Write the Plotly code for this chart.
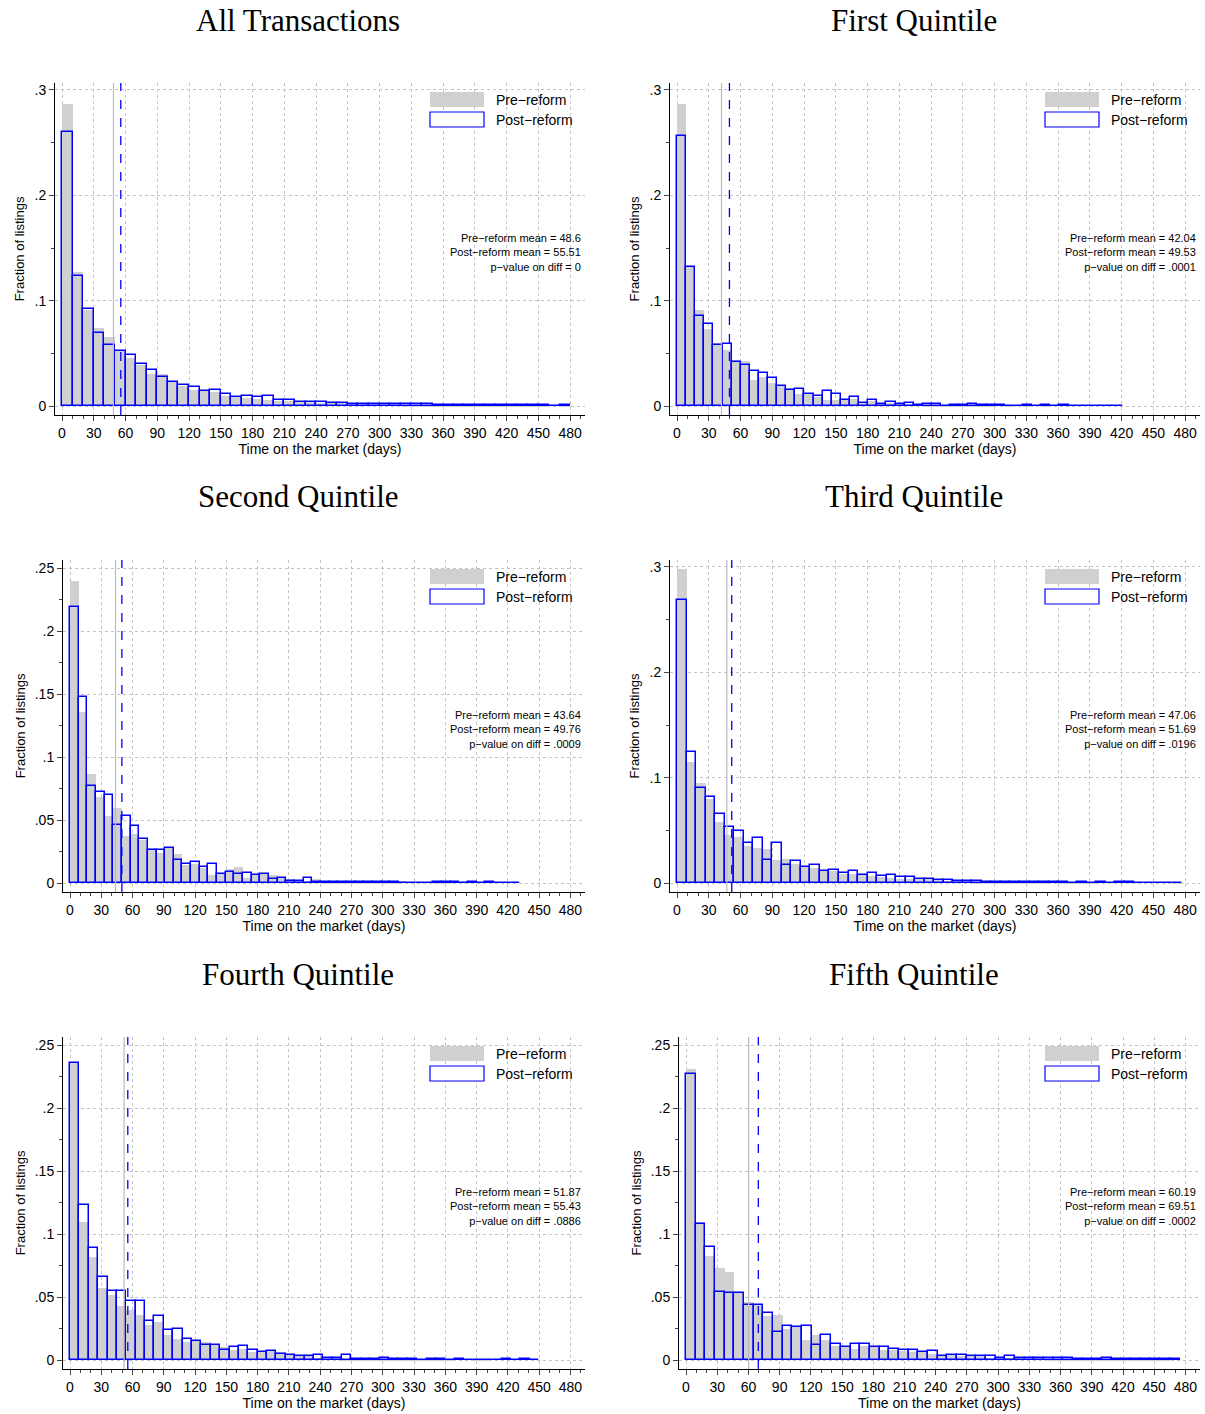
import plotly.graph_objects as go

W, H = 1205, 1414

titles = ['All Transactions', 'First Quintile', 'Second Quintile',
          'Third Quintile', 'Fourth Quintile', 'Fifth Quintile']
bin_width = [10, 8.6, 8.3, 9.0, 9.0, 9.3]
pre_mean = [48.6, 42.04, 43.64, 47.06, 51.87, 60.19]
post_mean = [55.51, 49.53, 49.76, 51.69, 55.43, 69.51]
p_value = ['0', '.0001', '.0009', '.0196', '.0886', '.0002']

pre_all = [.287, .127, .091, .074, .066, .052, .046, .039, .030, .030, .023, .019, .015, .014, .013, .010,
           .009, .008, .007, .006, .005, .005, .004, .004, .003, .003, .003, .002, .002, .002, .002, .002,
           .001, .001, .001, .001, .001, .001, .001, .001, .001, .001, .001, .0005, .0005, .0005, 0, .0005]
post_all = [.260, .123, .092, .069, .058, .052, .048, .040, .034, .028, .023, .020, .018, .014, .015, .011,
            .009, .010, .009, .010, .006, .006, .004, .004, .004, .003, .003, .002, .002, .002, .002, .002,
            .002, .002, .002, .001, .001, .001, .001, .001, .001, .001, .001, .001, .001, .001, 0, .001]

pre_q1 = [.287, .132, .091, .073, .060, .053, .044, .043, .025, .028, .022, .019, .017, .011, .011, .009,
          .006, .006, .006, .007, .004, .005, .003, .003, .002, .002, .002, .001, .001, .001, .001, .001,
          .001, .001, .001, .0, .001, .0, .001, .0, .001, .0, .0, .0, .0, .0, .0, .0, .0]
post_q1 = [.256, .132, .085, .078, .058, .059, .042, .039, .033, .031, .027, .019, .015, .016, .011, .010,
           .014, .011, .006, .009, .003, .006, .002, .004, .002, .003, .001, .002, .002, .0, .001, .001,
           .002, .001, .001, .001, .0, .0, .001, .0, .001, .0, .001, .0, .0, .0, .0, .0, .0]

pre_q2 = [.240, .136, .087, .068, .053, .060, .037, .039, .034, .028, .024, .028, .023, .014, .015, .012,
          .006, .008, .011, .013, .004, .007, .008, .006, .004, .003, .002, .002, .003, .001, .001, .001,
          .001, .001, .001, .001, .001, .001, .002, .0, .0, .0, .001, .001, .0, .0, .0, .0, .0, .0, .0, .0]
post_q2 = [.219, .148, .077, .072, .070, .046, .053, .045, .035, .026, .026, .028, .018, .015, .017, .013,
           .015, .007, .009, .007, .008, .006, .007, .003, .004, .002, .002, .004, .001, .001, .001, .001,
           .001, .001, .001, .001, .001, .001, .0, .0, .0, .0, .001, .001, .001, .0, .001, .0, .001, .0, .0, .0]

pre_q3 = [.298, .115, .095, .080, .058, .046, .044, .035, .033, .032, .022, .023, .018, .016, .014, .012,
          .011, .009, .009, .008, .007, .006, .005, .004, .004, .004, .004, .003, .002, .002, .002, .001,
          .001, .001, .001, .001, .001, .001, .001, .0, .001, .001, .001, .001, .0, .0, .0, .0, .0, .0, .0, .0, .001]
post_q3 = [.269, .124, .090, .082, .066, .053, .049, .038, .043, .022, .038, .017, .021, .015, .017, .011,
           .012, .010, .011, .008, .010, .007, .008, .006, .006, .004, .004, .003, .003, .002, .002, .002,
           .001, .001, .001, .001, .001, .001, .001, .001, .001, .0, .001, .0, .001, .0, .001, .001, .0, .0, .0, .0, .0]

pre_q4 = [.236, .110, .082, .057, .052, .043, .040, .036, .028, .030, .020, .017, .014, .015, .014, .012,
          .010, .008, .009, .006, .007, .007, .006, .005, .003, .003, .002, .002, .002, .001, .001, .001,
          .001, .001, .001, .001, .001, .001, .001, .001, .001, .0, .0, .001, .001, .0, .0, .0, .0, .0]
post_q4 = [.236, .123, .089, .066, .055, .055, .047, .047, .031, .035, .024, .025, .017, .015, .012, .012,
           .008, .010, .011, .008, .006, .007, .005, .004, .003, .003, .004, .002, .002, .004, .001, .001,
           .001, .002, .001, .001, .001, .0, .001, .001, .0, .001, .0, .0, .0, .0, .001, .0, .001, .0]

pre_q5 = [.231, .110, .083, .073, .070, .054, .046, .044, .035, .036, .025, .026, .016, .020, .016, .011,
          .011, .009, .011, .010, .008, .008, .007, .006, .006, .005, .004, .004, .003, .003, .003, .002,
          .002, .002, .002, .002, .002, .001, .001, .001, .001, .001, .001, .001, .001, .001, .001, .001, .001, .001, .0]
post_q5 = [.227, .108, .090, .054, .053, .053, .044, .044, .037, .022, .027, .026, .027, .012, .020, .013,
           .010, .013, .013, .010, .010, .009, .008, .008, .006, .007, .003, .004, .004, .003, .003, .003,
           .002, .003, .002, .002, .002, .002, .002, .002, .001, .001, .001, .002, .001, .001, .001, .001, .001, .001, .001]

pre_series = [pre_all, pre_q1, pre_q2, pre_q3, pre_q4, pre_q5]
post_series = [post_all, post_q1, post_q2, post_q3, post_q4, post_q5]

y_top = [.3066, .3066, .2566, .3066, .2566, .2566]
y_step = [.1, .1, .05, .1, .05, .05]

fig = go.Figure()
axis_left = [55, 670, 63, 670, 63, 679]
col_right = [585, 1200]
row_y = [(83, 415), (560, 892), (1037, 1369)]
tick_vals = list(range(0, 481, 30))
annotations = []
shapes = []


def px(xp, yp):
    return xp / W, 1 - yp / H


for i in range(6):
    r, c = divmod(i, 2)
    n = i + 1
    xa = 'x' if n == 1 else f'x{n}'
    ya = 'y' if n == 1 else f'y{n}'
    w = bin_width[i]
    pre = pre_series[i]
    post = post_series[i]
    fig.add_trace(go.Bar(x=[w * (k + 0.5) for k in range(len(pre))], y=pre, width=w,
                         marker=dict(color='#d0d0d0', line=dict(width=0)),
                         name='Pre−reform', xaxis=xa, yaxis=ya, showlegend=False))
    fig.add_trace(go.Bar(x=[w * (k + 0.5) for k in range(len(post))], y=post, width=w,
                         marker=dict(color='rgba(0,0,0,0)', line=dict(color='#0000ff', width=1.5)),
                         name='Post−reform', xaxis=xa, yaxis=ya, showlegend=False))

    x0, x1 = axis_left[i], col_right[c]
    yt, yb = row_y[r]
    top = y_top[i]
    step = y_step[i]
    yv = [round(k * step, 2) for k in range(int(top / step) + 1)]
    yt_text = ['0' if v == 0 else (f'{v:g}')[1:] for v in yv]
    fig.layout[('xaxis' if n == 1 else f'xaxis{n}')] = dict(
        domain=[x0 / W, x1 / W], anchor=ya, range=[-7 * 480 / (x1 - x0 - 22), 494], tickvals=tick_vals,
        ticks='outside', ticklen=5, tickfont=dict(size=14, color='black'),
        showgrid=True, gridcolor='#c4c4c4', griddash='dot', gridwidth=1,
        showline=True, linecolor='black', zeroline=False,
        minor=dict(dtick=10, ticks='outside', ticklen=3, showgrid=False),
        title=dict(text='Time on the market (days)', font=dict(size=14, color='black'), standoff=4))
    fig.layout[('yaxis' if n == 1 else f'yaxis{n}')] = dict(
        domain=[1 - yb / H, 1 - yt / H], anchor=xa, range=[-0.0085 * top / .3066, top],
        tickvals=yv, ticktext=yt_text,
        ticks='outside', ticklen=5, tickfont=dict(size=14, color='black'),
        showgrid=True, gridcolor='#c4c4c4', griddash='dot', gridwidth=1,
        showline=True, linecolor='black', zeroline=False,
        minor=dict(dtick=step / 2, ticks='outside', ticklen=3, showgrid=False),
        title=dict(text='Fraction of listings', font=dict(size=13, color='black'), standoff=6))

    # legend drawn by hand: wide boxes like the original
    lx = col_right[c] - 155
    bx0, by0 = px(lx, yt + 9)
    bx1, by1 = px(lx + 54, yt + 24)
    shapes.append(dict(type='rect', xref='paper', yref='paper', x0=bx0, x1=bx1, y0=by1, y1=by0,
                       fillcolor='#d0d0d0', line=dict(width=0)))
    bx0, by0 = px(lx, yt + 29)
    bx1, by1 = px(lx + 54, yt + 44)
    shapes.append(dict(type='rect', xref='paper', yref='paper', x0=bx0, x1=bx1, y0=by1, y1=by0,
                       fillcolor='white', line=dict(color='#0000ff', width=1.2)))
    for lab, off in [('Pre−reform', 17), ('Post−reform', 37)]:
        tx, ty = px(lx + 64, yt + off)
        annotations.append(dict(text=lab, xref='paper', yref='paper', x=tx, y=ty, xanchor='left',
                                yanchor='middle', showarrow=False, font=dict(size=14, color='black')))

    shapes.append(dict(type='line', xref=xa, yref=f'{ya} domain', x0=pre_mean[i], x1=pre_mean[i],
                       y0=0, y1=1, line=dict(color='#bbbbbb', width=1.2)))
    shapes.append(dict(type='line', xref=xa, yref=f'{ya} domain', x0=post_mean[i], x1=post_mean[i],
                       y0=0, y1=1, line=dict(color='#0000ff', width=1.3, dash='dash')))

    annotations.append(dict(text=titles[i], xref='paper', yref='paper', x=(298 + 616 * c) / W,
                            y=1 - (20 + r * 477) / H, showarrow=False, xanchor='center', yanchor='middle',
                            font=dict(family='Liberation Serif', size=31, color='black')))
    annotations.append(dict(text=f'Pre−reform mean = {pre_mean[i]:g}<br>Post−reform mean = {post_mean[i]:g}'
                                 f'<br>p−value on diff = {p_value[i]}',
                            xref='paper', yref='paper', x=(x1 - 2) / W, y=1 - (yt + 147) / H,
                            xanchor='right', yanchor='top', align='right', showarrow=False,
                            font=dict(size=11, color='black')))

fig.update_layout(width=W, height=H, margin=dict(l=0, r=0, t=0, b=0), barmode='overlay',
                  bargap=0, plot_bgcolor='white', paper_bgcolor='white',
                  font=dict(family='Liberation Sans', color='black'),
                  annotations=annotations, shapes=shapes)

fig.write_html('out.html', config={'displayModeBar': False},
               post_script="document.body.style.margin='0';")
